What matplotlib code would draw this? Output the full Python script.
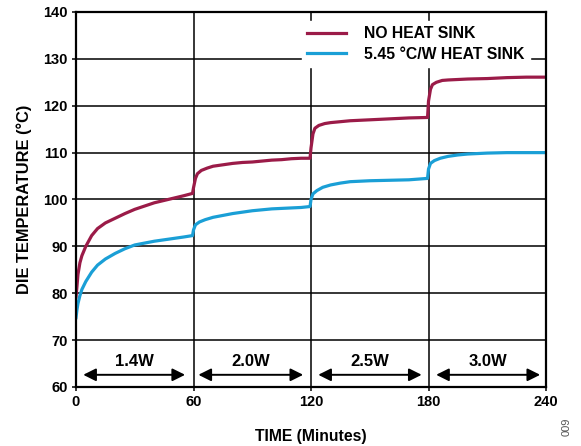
import numpy as np
import matplotlib
matplotlib.use("Agg")
import matplotlib.pyplot as plt

plt.rcParams['font.family'] = ['Liberation Sans', 'DejaVu Sans']
plt.rcParams['font.weight'] = 'bold'

# no heat sink (red)
t_red = [0, 0.5, 1, 2, 3, 5, 8, 11, 15, 20, 25, 30, 35, 40, 45, 50, 55, 59.5,
         60, 61, 62, 64, 67, 70, 75, 80, 85, 90, 95, 100, 105, 110, 115, 119.5,
         120, 121, 122, 124, 127, 130, 135, 140, 145, 150, 160, 170, 179.5,
         180, 181, 182, 184, 187, 190, 200, 210, 220, 230, 240]
temp_red = [79.2, 81.5, 84, 86.5, 88, 90, 92.3, 93.8, 95, 96, 97, 97.9, 98.6, 99.3, 99.8, 100.3, 100.8, 101.3,
            102.5, 104.5, 105.5, 106.2, 106.7, 107.1, 107.4, 107.7, 107.9, 108.0, 108.2, 108.4, 108.5, 108.7, 108.8, 108.8,
            111, 114, 115.2, 115.8, 116.2, 116.4, 116.6, 116.8, 116.9, 117.0, 117.2, 117.4, 117.5,
            121, 123.5, 124.5, 125.0, 125.4, 125.5, 125.7, 125.8, 126.0, 126.1, 126.1]

# 5.45 C/W heat sink (blue)
t_blue = [0, 0.5, 1, 2, 3, 5, 8, 11, 15, 20, 25, 30, 35, 40, 45, 50, 55, 59.5,
          60, 61, 63, 66, 70, 75, 80, 85, 90, 95, 100, 105, 110, 115, 119.5,
          120, 121, 123, 126, 130, 135, 140, 150, 160, 170, 179.5,
          180, 181, 183, 186, 190, 195, 200, 210, 220, 240]
temp_blue = [74.8, 76.5, 77.8, 79.5, 80.8, 82.5, 84.5, 86, 87.3, 88.5, 89.5, 90.3, 90.7, 91.1, 91.4, 91.7, 92.0, 92.3,
             93.5, 94.6, 95.2, 95.7, 96.2, 96.6, 97.0, 97.3, 97.6, 97.8, 98.0, 98.1, 98.2, 98.3, 98.5,
             100, 101.2, 101.9, 102.6, 103.1, 103.5, 103.8, 104.0, 104.1, 104.2, 104.5,
             106.5, 107.7, 108.3, 108.8, 109.2, 109.5, 109.7, 109.9, 110, 110]

power_labels = ['1.4W', '2.0W', '2.5W', '3.0W']
arrow_start = [3.7, 62.5, 123.7, 183.9]
arrow_end = [55.7, 116, 176.5, 237]

fig = plt.figure(figsize=(5.81, 4.46), dpi=100)
ax = fig.add_axes([0.1308, 0.1323, 0.809, 0.8408])

ax.plot(t_red, temp_red, color='#9b1b48', lw=2.3, label='NO HEAT SINK', zorder=3)
ax.plot(t_blue, temp_blue, color='#1a9fd6', lw=2.3, label='5.45 °C/W HEAT SINK', zorder=3)

for lab, a, b in zip(power_labels, arrow_start, arrow_end):
    ax.annotate('', xy=(a, 62.6), xytext=(b, 62.6),
                arrowprops=dict(arrowstyle='<|-|>', color='black', lw=1.4,
                                mutation_scale=19, shrinkA=0, shrinkB=0))
    ax.text((a + b) / 2, 65.5, lab, ha='center', va='center', fontsize=12, fontweight='bold')

ax.set_xlim(0, 240)
ax.set_ylim(60, 140)
ax.set_xticks([0, 60, 120, 180, 240])
ax.set_yticks(np.arange(60, 141, 10))
ax.grid(True, color='black', lw=1.1)
ax.tick_params(length=3, width=1.1, labelsize=10.5, pad=3)
for lbl in ax.get_xticklabels() + ax.get_yticklabels():
    lbl.set_fontweight('bold')
for s in ax.spines.values():
    s.set_linewidth(1.6)
    s.set_zorder(6)

ax.set_xlabel('TIME (Minutes)', fontsize=11.3, fontweight='bold', labelpad=14)
ax.set_ylabel('DIE TEMPERATURE (°C)', fontsize=11.8, fontweight='bold', labelpad=8)

leg = ax.legend(loc='upper right', bbox_to_anchor=(0.982, 0.997), frameon=True,
                prop={'weight': 'bold', 'size': 11.3}, handlelength=2.5,
                handletextpad=1.1, borderpad=0.35, labelspacing=0.35, fancybox=False)
leg.get_frame().set_edgecolor('white')
leg.get_frame().set_facecolor('white')
leg.get_frame().set_alpha(1)
leg.set_zorder(5)

fig.text(0.975, 0.043, '009', rotation=90, fontsize=8, color='#555555',
         fontweight='normal', ha='center', va='center')

fig.savefig('out.png', dpi=100)
